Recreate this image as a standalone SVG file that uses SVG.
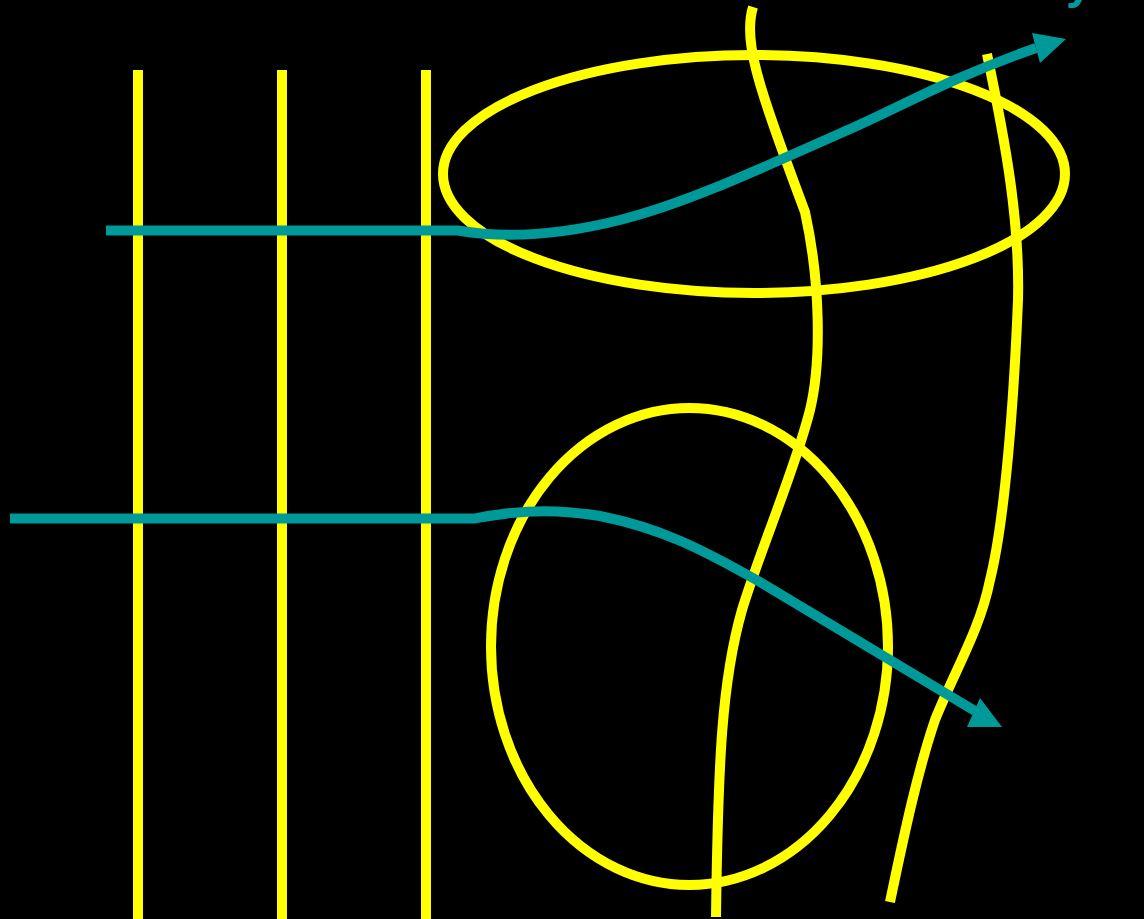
<svg xmlns="http://www.w3.org/2000/svg" width="1144" height="919" viewBox="0 0 1144 919">
  <style>
    .y { fill: none; stroke: #FFFF00; stroke-width: 10; stroke-linecap: butt; }
    .t { fill: none; stroke: #009999; stroke-width: 10; stroke-linecap: butt; }
    .th { fill: #009999; stroke: none; }
    .lbl { font-family: "Liberation Sans", Arial, sans-serif; font-weight: bold; fill: #009999; }
  </style>
  <rect x="0" y="0" width="1144" height="919" fill="#000000"/>
  <g id="vertical-lines">
    <line class="y" x1="138" y1="70" x2="138" y2="919"/>
    <line class="y" x1="282" y1="70" x2="282" y2="919"/>
    <line class="y" x1="426" y1="70" x2="426" y2="919"/>
  </g>
  <g id="top-ellipse">
    <ellipse class="y" cx="754" cy="174" rx="311" ry="119"/>
  </g>
  <g id="bottom-ellipse">
    <ellipse class="y" cx="689.5" cy="646.5" rx="198.5" ry="238.5"/>
  </g>
  <g id="wavy-line-left">
    <path class="y" d="M753,7 C746,30 752,60 765,100 C778,140 795,185 805,212 C820,280 822,360 810,410 C795,470 760,550 742,610 C722,680 718,760 716,917"/>
  </g>
  <g id="wavy-line-right">
    <path class="y" d="M987,54 C1005,140 1020,220 1018,300 C1014,400 1005,520 990,580 C980,630 955,670 935,720 C918,770 905,830 890,902"/>
  </g>
  <g id="label">
    <text class="lbl" x="1066" y="-2" font-size="48">y</text>
  </g>
  <g id="connectors">
    <path class="t" d="M106,230.5 L458,230.5 C490,236 540,240 620,220 C680,205 740,178 850,129 C900,107 950,78 1036,48"/>
    <polygon class="th" points="1066,39 1032,33 1040,63"/>
    <path class="t" d="M10,518.5 L474,518.5 C500,514 540,506 600,516 C660,528 700,548 760,582 L975,711"/>
    <polygon class="th" points="1002,727 980,698 967,727"/>
  </g>
</svg>
